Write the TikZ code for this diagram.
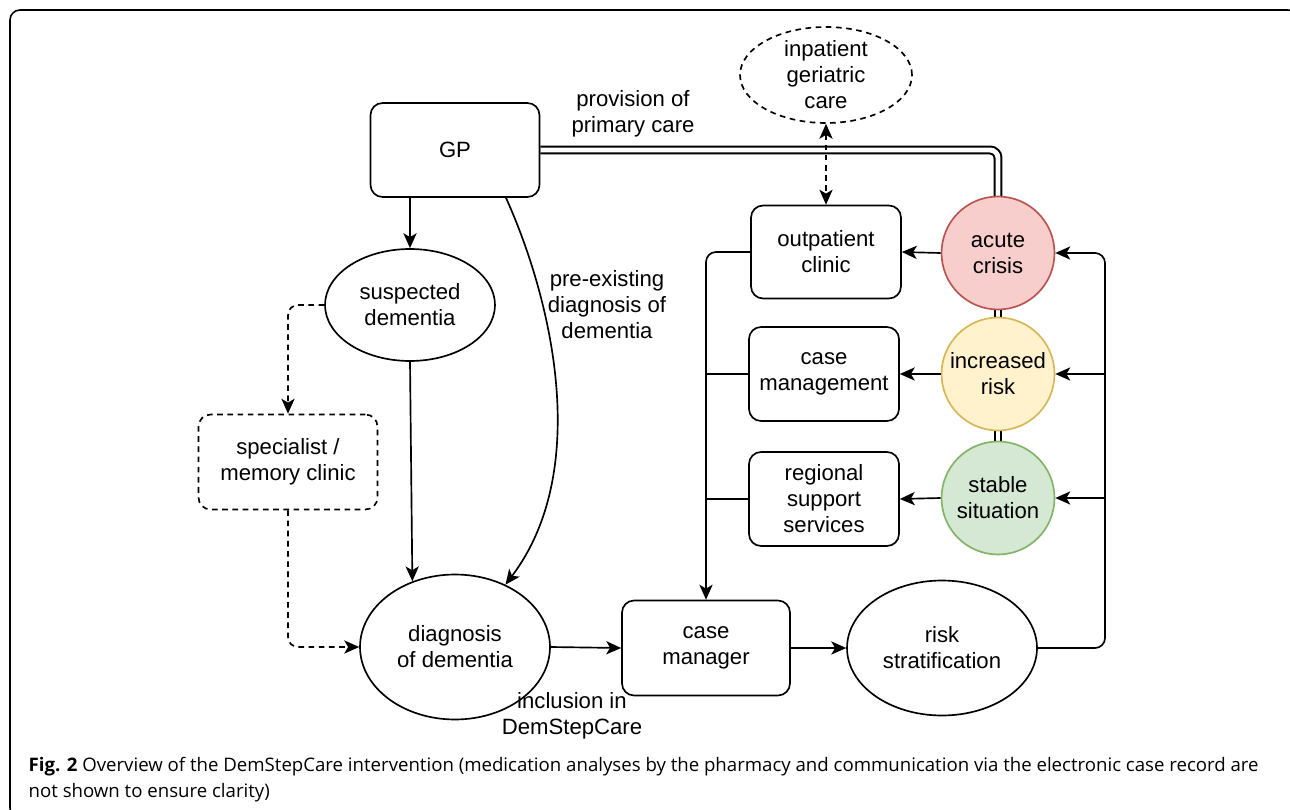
\documentclass[tikz,border=0pt]{standalone}
\usepackage{fontspec}
\setmainfont{Liberation Sans}
\newfontfamily\capfont{Open Sans}
\usetikzlibrary{arrows.meta, shapes.geometric, backgrounds, calc}
\definecolor{crisisfill}{HTML}{F8CECC}
\definecolor{crisisline}{HTML}{B85450}
\definecolor{riskfill}{HTML}{FFF2CC}
\definecolor{riskline}{HTML}{D6B656}
\definecolor{stablefill}{HTML}{D5E8D4}
\definecolor{stableline}{HTML}{82B366}

\begin{document}
\begin{tikzpicture}[>={Stealth[length=8.5pt,width=7.5pt,inset=2.2pt]}, x=0.02cm, y=-0.02cm,
    every node/.style={font=\fontsize{12.6}{14.8}\selectfont, align=center},
    every path/.style={line width=0.95pt},
    box/.style={draw, rounded corners=0.24cm, fill=white, minimum width=3cm, minimum height=1.88cm, inner sep=1pt},
    oval/.style={draw, ellipse, fill=white, inner sep=0pt},
    level/.style={draw, circle, minimum size=2.26cm, inner sep=0pt},
    dsh/.style={dash pattern=on 3.2pt off 2.6pt},
    dbl/.style={double, double distance=2.8pt, line width=1.15pt}]
\useasboundingbox (0,0) rectangle (1290,810);
\draw[line width=0.9pt, rounded corners=0.2cm] (10,10) rectangle (1298,818);

\node[box, minimum width=3.38cm] (gp) at (455,150) {GP};
\node[oval, dsh, minimum width=3.44cm, minimum height=1.92cm,
      label={[align=center]center:inpatient\\geriatric\\care}] (inpatient) at (826,75) {};
\node (provision) at (633,114) {provision of\\primary care};
\node[oval, minimum width=3.4cm, minimum height=2.24cm] (suspected) at (410,305) {suspected\\dementia};
\node[box, dsh, minimum width=3.58cm, minimum height=1.9cm] (specialist) at (288,462) {specialist /\\memory clinic};
\node[oval, minimum width=3.8cm, minimum height=2.9cm] (diagnosis) at (455,647) {diagnosis\\of dementia};
\node (preexisting) at (607,305) {pre-existing\\diagnosis of\\dementia};
\node (inclusion) at (572,716) {inclusion in\\DemStepCare};
\node[box, minimum width=3.36cm, minimum height=1.9cm] (casemanager) at (706,648) {case\\manager};
\node[oval, minimum width=3.8cm, minimum height=2.7cm] (riskstrat) at (942,648) {risk\\stratification};

\node[box, minimum height=1.86cm] (outpatient) at (826,252) {outpatient\\clinic};
\node[box] (casemgmt) at (824,374) {case\\management};
\node[box] (regional) at (824,499) {regional\\support\\services};

\node[level, draw=crisisline, fill=crisisfill] (acute) at (998,253) {acute\\crisis};
\node[level, draw=riskline, fill=riskfill] (increased) at (998,374) {increased\\risk};
\node[level, draw=stableline, fill=stablefill] (stable) at (998,498) {stable\\situation};

\coordinate (loopR) at (1105,0);

\begin{scope}[on background layer]
\draw[dbl, rounded corners=0.16cm] (gp.east) -| (acute.center);
\draw[dbl] (acute.center) -- (increased.center);
\draw[dbl] (increased.center) -- (stable.center);
\end{scope}

\draw[<->, dsh] (inpatient.south) -- (outpatient.north);
\draw[->] (gp.south -| suspected.north) -- (suspected.north);
\draw[->] (suspected.south) -- (diagnosis.123);
\draw[->] ([xshift=1.02cm]gp.south) .. controls (552,300) and (592,470) .. (diagnosis.51);
\draw[->, dsh, rounded corners=0.2cm] (suspected.west) -| (specialist.north);
\draw[->, dsh, rounded corners=0.2cm] (specialist.south) |- (diagnosis.west);
\draw[->] (diagnosis.east) -- (casemanager.west);
\draw[->] (casemanager.east) -- (riskstrat.west);

\draw[->, rounded corners=0.2cm] (riskstrat.east) -- (riskstrat.east -| loopR) |- (acute.east);
\draw[->] (increased.east -| loopR) -- (increased.east);
\draw[->] (stable.east -| loopR) -- (stable.east);
\draw[->] (acute.west) -- (outpatient.east);
\draw[->] (increased.west) -- (casemgmt.east);
\draw[->] (stable.west) -- (regional.east);
\draw[->, rounded corners=0.2cm] (outpatient.west) -| (casemanager.north);
\draw (casemgmt.west) -- (casemgmt.west -| casemanager.north);
\draw (regional.west) -- (regional.west -| casemanager.north);

\node[anchor=base west, font=\capfont\fontsize{10.6}{12}\selectfont] (caption1) at (22,771)
  {\textbf{Fig. 2} Overview of the DemStepCare intervention (medication analyses by the pharmacy and communication via the electronic case record are};
\node[anchor=base west, font=\capfont\fontsize{10.6}{12}\selectfont] (caption2) at (22,797)
  {not shown to ensure clarity)};
\end{tikzpicture}
\end{document}
